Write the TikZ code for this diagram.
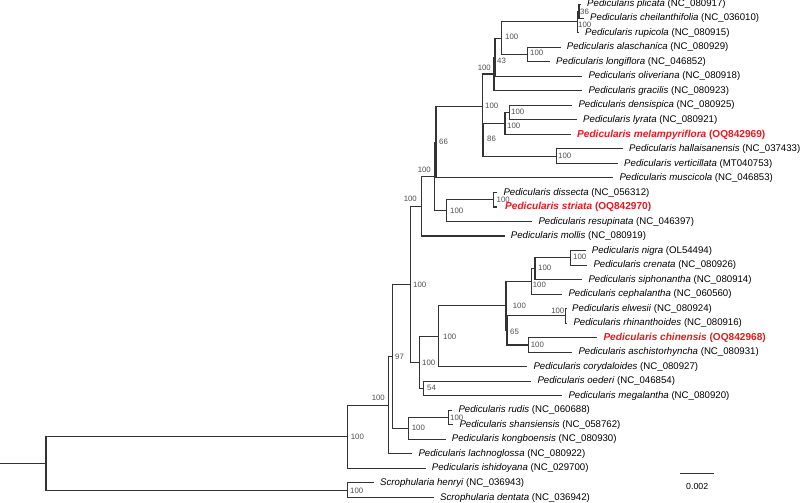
\documentclass[tikz,border=0pt]{standalone}
\usepackage{fontspec}
\setmainfont{Liberation Sans}
\usetikzlibrary{calc}
\definecolor{tipred}{RGB}{228,26,28}

\begin{document}
\begin{tikzpicture}[x=1pt,y=-1pt,
  br/.style={line width=1.1pt,black!80},
  leaf/.style={br,shorten >=6pt},
  tip/.style={anchor=west,inner sep=0pt,text height=7.1pt,text depth=1.9pt,font=\fontsize{9.65}{11}\selectfont},
  hit/.style={tip,text=tipred,font=\fontsize{10.1}{11}\selectfont\bfseries},
  bs/.style={anchor=west,inner sep=0pt,text=black!70,font=\fontsize{7.8}{9}\selectfont},
  bsl/.style={bs,anchor=east}]
\useasboundingbox (0,0) rectangle (800,503);

% tips
\node[tip] (plicata) at (587,4.2) {\textit{Pedicularis plicata} (NC\_080917)};
\node[tip] (cheil) at (590,18.2) {\textit{Pedicularis cheilanthifolia} (NC\_036010)};
\node[tip] (rupicola) at (585,32.7) {\textit{Pedicularis rupicola} (NC\_080915)};
\node[tip] (alasch) at (566.7,47.3) {\textit{Pedicularis alaschanica} (NC\_080929)};
\node[tip] (longi) at (556,61.8) {\textit{Pedicularis longiflora} (NC\_046852)};
\node[tip] (oliv) at (588.3,76.3) {\textit{Pedicularis oliveriana} (NC\_080918)};
\node[tip] (gracilis) at (588.3,90.8) {\textit{Pedicularis gracilis} (NC\_080923)};
\node[tip] (densi) at (578.3,105.3) {\textit{Pedicularis densispica} (NC\_080925)};
\node[tip] (lyrata) at (583,119.9) {\textit{Pedicularis lyrata} (NC\_080921)};
\node[hit] (melam) at (577,134.4) {\textit{Pedicularis melampyriflora} (OQ842969)};
\node[tip] (hallai) at (629,148.9) {\textit{Pedicularis hallaisanensis} (NC\_037433)};
\node[tip] (verti) at (624,163.4) {\textit{Pedicularis verticillata} (MT040753)};
\node[tip] (musci) at (619.3,177.9) {\textit{Pedicularis muscicola} (NC\_046853)};
\node[tip] (dissecta) at (503.3,192.5) {\textit{Pedicularis dissecta} (NC\_056312)};
\node[hit] (striata) at (505,207) {\textit{Pedicularis striata} (OQ842970)};
\node[tip] (resup) at (538.3,221.5) {\textit{Pedicularis resupinata} (NC\_046397)};
\node[tip] (mollis) at (510.7,236) {\textit{Pedicularis mollis} (NC\_080919)};
\node[tip] (nigra) at (591.7,250.5) {\textit{Pedicularis nigra} (OL54494)};
\node[tip] (crenata) at (593.3,265.1) {\textit{Pedicularis crenata} (NC\_080926)};
\node[tip] (sipho) at (588.3,279.6) {\textit{Pedicularis siphonantha} (NC\_080914)};
\node[tip] (cephal) at (568.3,294.1) {\textit{Pedicularis cephalantha} (NC\_060560)};
\node[tip] (elwesii) at (572,308.6) {\textit{Pedicularis elwesii} (NC\_080924)};
\node[tip] (rhinan) at (573.3,323.1) {\textit{Pedicularis rhinanthoides} (NC\_080916)};
\node[hit] (chinen) at (603.3,337.7) {\textit{Pedicularis chinensis} (OQ842968)};
\node[tip] (aschis) at (578.3,352.2) {\textit{Pedicularis aschistorhyncha} (NC\_080931)};
\node[tip] (coryd) at (533.3,366.7) {\textit{Pedicularis corydaloides} (NC\_080927)};
\node[tip] (oederi) at (537.3,381.2) {\textit{Pedicularis oederi} (NC\_046854)};
\node[tip] (megal) at (568.3,395.7) {\textit{Pedicularis megalantha} (NC\_080920)};
\node[tip] (rudis) at (458.3,410.3) {\textit{Pedicularis rudis} (NC\_060688)};
\node[tip] (shansi) at (459.3,424.8) {\textit{Pedicularis shansiensis} (NC\_058762)};
\node[tip] (kongbo) at (451.7,439.3) {\textit{Pedicularis kongboensis} (NC\_080930)};
\node[tip] (lachno) at (418.3,453.8) {\textit{Pedicularis lachnoglossa} (NC\_080922)};
\node[tip] (ishido) at (431.7,468.3) {\textit{Pedicularis ishidoyana} (NC\_029700)};
\node[tip] (henryi) at (380,482.9) {\textit{Scrophularia henryi} (NC\_036943)};
\node[tip] (dentata) at (440,497.4) {\textit{Scrophularia dentata} (NC\_036942)};

% internal nodes
\coordinate (base) at (0,463.4);
\coordinate (root) at (46,463.4);
\coordinate (A) at (347.7,436.7);
\coordinate (Z) at (347.7,490.15);
\coordinate (B) at (388.3,405.1);
\coordinate (C) at (392.5,356.35);
\coordinate (E) at (408.3,428.4);
\coordinate (E1) at (448.3,417.55);
\coordinate (D) at (410.7,284.3);
\coordinate (G) at (419.8,362.4);
\coordinate (Y9) at (423.3,388.45);
\coordinate (Y8) at (438.3,336.3);
\coordinate (Y7) at (506,305.9);
\coordinate (Y6) at (507,330.4);
\coordinate (Y5) at (528.3,344.95);
\coordinate (Y4) at (565.5,315.85);
\coordinate (Y3) at (531.7,281.4);
\coordinate (Y2) at (535,268.7);
\coordinate (Y1) at (570.7,257.8);
\coordinate (F) at (421.7,206.25);
\coordinate (H) at (434.5,176.5);
\coordinate (K) at (446.7,210.6);
\coordinate (L) at (493.3,199.75);
\coordinate (I) at (436,142.4);
\coordinate (J) at (482.3,106.9);
\coordinate (M) at (483,139.8);
\coordinate (O) at (556.7,156.15);
\coordinate (N) at (505,123.5);
\coordinate (Q) at (509.3,112.6);
\coordinate (W) at (494,74);
\coordinate (V) at (495,57.25);
\coordinate (U) at (501.7,38.2);
\coordinate (T) at (527.7,54.55);
\coordinate (S2) at (577.7,21.8);
\coordinate (S1) at (579,11.2);

% branches
\draw[br] (base) -- (root);
\draw[br] (root) |- (A) (root) |- (Z);
\draw[br] (A) |- (B);
\draw[leaf] (A) |- (ishido);
\draw[leaf] (Z) |- (henryi);
\draw[leaf] (Z) |- (dentata);
\draw[br] (B) |- (C);
\draw[leaf] (B) |- (lachno);
\draw[br] (C) |- (D) (C) |- (E);
\draw[br] (E) |- (E1);
\draw[leaf] (E) |- (kongbo);
\draw[leaf] (E1) |- (rudis);
\draw[leaf] (E1) |- (shansi);
\draw[br] (D) |- (F) (D) |- (G);
\draw[br] (G) |- (Y8) (G) |- (Y9);
\draw[leaf] (Y9) |- (oederi);
\draw[leaf] (Y9) |- (megal);
\draw[br] (Y8) |- (Y7);
\draw[leaf] (Y8) |- (coryd);
\draw[br] (Y7) |- (Y3) (Y7) |- (Y6);
\draw[br] (Y6) |- (Y4) (Y6) |- (Y5);
\draw[leaf] (Y5) |- (chinen);
\draw[leaf] (Y5) |- (aschis);
\draw[leaf] (Y4) |- (elwesii);
\draw[leaf] (Y4) |- (rhinan);
\draw[br] (Y3) |- (Y2);
\draw[leaf] (Y3) |- (cephal);
\draw[br] (Y2) |- (Y1);
\draw[leaf] (Y2) |- (sipho);
\draw[leaf] (Y1) |- (nigra);
\draw[leaf] (Y1) |- (crenata);
\draw[br] (F) |- (H);
\draw[leaf] (F) |- (mollis);
\draw[br] (H) |- (I) (H) |- (K);
\draw[br] (K) |- (L);
\draw[leaf] (K) |- (resup);
\draw[leaf] (L) |- (dissecta);
\draw[leaf,shorten >=7.7pt] (L) |- (striata);
\draw[br] (I) |- (J);
\draw[leaf] (I) |- (musci);
\draw[br] (J) |- (W) (J) |- (M);
\draw[br] (M) |- (N) (M) |- (O);
\draw[leaf] (O) |- (hallai);
\draw[leaf] (O) |- (verti);
\draw[br] (N) |- (Q);
\draw[leaf] (N) |- (melam);
\draw[leaf] (Q) |- (densi);
\draw[leaf] (Q) |- (lyrata);
\draw[br] (W) |- (V);
\draw[leaf] (W) |- (gracilis);
\draw[br] (V) |- (U);
\draw[leaf] (V) |- (oliv);
\draw[br] (U) |- (S2) (U) |- (T);
\draw[leaf] (T) |- (alasch);
\draw[leaf] (T) |- (longi);
\draw[br] (S2) |- (S1);
\draw[leaf] (S2) |- (rupicola);
\draw[leaf] (S1) |- (plicata);
\draw[leaf] (S1) |- (cheil);

% support values
\node[bs] (bS1) at (580,11.7) {36};
\node[bs] (bS2) at (578,25) {100};
\node[bs] (bT) at (530,53.3) {100};
\node[bs] (bU) at (505,37.3) {100};
\node[bs] (bV) at (497,60.7) {43};
\node[bsl] (bW) at (491,68.3) {100};
\node[bs] (bQ) at (511,112.3) {100};
\node[bs] (bN) at (507,126) {100};
\node[bs] (bO) at (558,156) {100};
\node[bs] (bM) at (487,139.3) {86};
\node[bs] (bJ) at (485,106) {100};
\node[bs] (bI) at (439,141.7) {66};
\node[bs] (bL) at (496.5,199.5) {100};
\node[bs] (bK) at (450,210.7) {100};
\node[bsl] (bH) at (431,170) {100};
\node[bsl] (bF) at (417,199.3) {100};
\node[bs] (bY1) at (573,257.3) {100};
\node[bs] (bY2) at (538,268.3) {100};
\node[bs] (bY3) at (532.7,285) {100};
\node[bsl] (bY4) at (564.5,311) {100};
\node[bs] (bY5) at (530.7,345) {100};
\node[bs] (bY6) at (510,331.7) {65};
\node[bs] (bY7) at (512.7,305.7) {100};
\node[bs] (bY8) at (443,336.5) {100};
\node[bs] (bY9) at (427,388.3) {54};
\node[bs] (bG) at (422,363) {100};
\node[bs] (bD) at (413,285) {100};
\node[bs] (bE1) at (450,418) {100};
\node[bs] (bE) at (411.7,427.7) {100};
\node[bs] (bC) at (395,357) {97};
\node[bsl] (bB) at (385,398.3) {100};
\node[bs] (bA) at (350.7,436.7) {100};
\node[bs] (bZ) at (350,490.7) {100};

% scale bar
\coordinate (sb1) at (680,473.3);
\coordinate (sb2) at (714.3,473.3);
\draw[br] (sb1) -- (sb2);
\node[inner sep=0pt,font=\fontsize{8.8}{10}\selectfont] (sblabel) at (697.2,486.7) {0.002};
\end{tikzpicture}
\end{document}
